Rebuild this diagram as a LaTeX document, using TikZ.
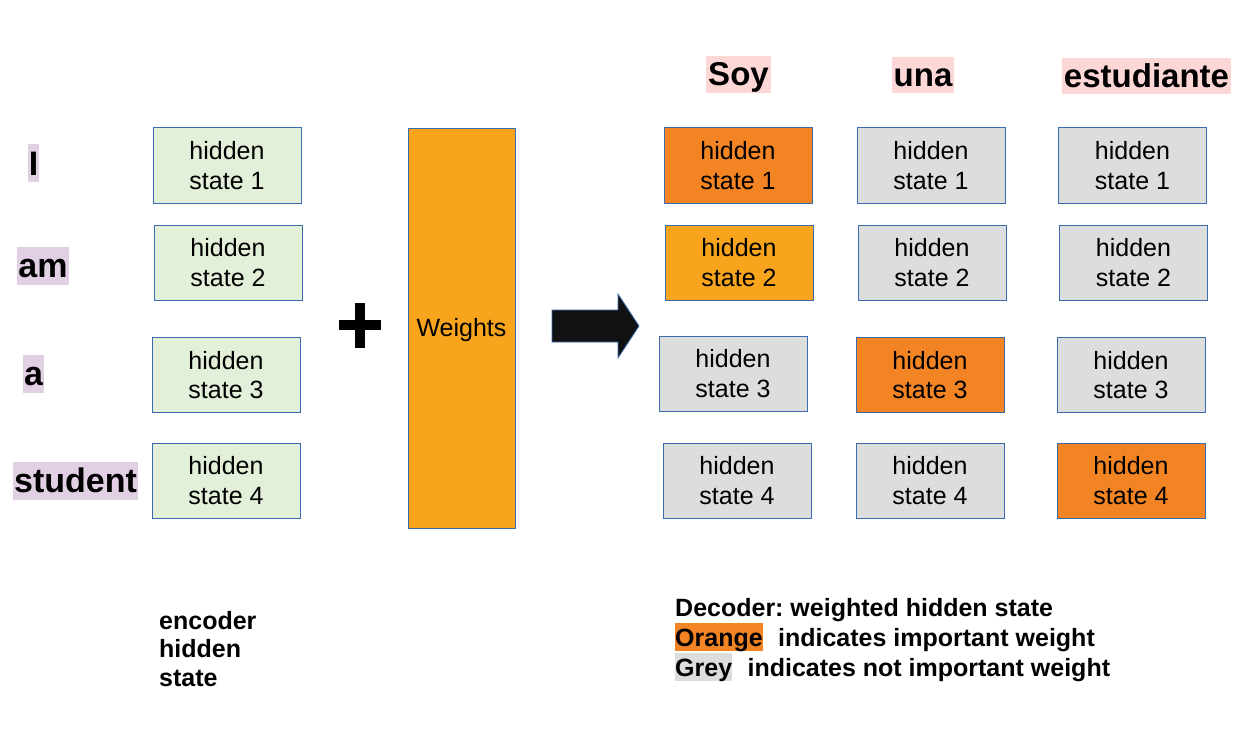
\documentclass[tikz,border=0pt]{standalone}
\usepackage{fontspec}
\setmainfont{Liberation Sans}
\frenchspacing

\definecolor{encgreen}{HTML}{E2EFD9}
\definecolor{bordblue}{HTML}{3B6BAF}
\definecolor{hotorange}{HTML}{F38423}
\definecolor{warmorange}{HTML}{F8A51D}
\definecolor{coolgrey}{HTML}{DDDDDD}
\definecolor{wordlilac}{HTML}{E1CFE4}
\definecolor{wordpink}{HTML}{FDD7D6}
\definecolor{arrowblack}{HTML}{111111}

\tikzset{
  % hidden-state boxes; the strut lowers the two text lines a little
  hs/.style={draw=bordblue, line width=1pt, minimum width=148pt, minimum height=75pt,
    inner sep=0pt, align=center, text=black, font=\fontsize{25}{29.5}\selectfont,
    execute at begin node={\rule{0pt}{21pt}}},
  enc/.style={hs, fill=encgreen},
  hot/.style={hs, fill=hotorange},
  warm/.style={hs, fill=warmorange},
  cold/.style={hs, fill=coolgrey},
  % highlighted words (line box of ascent 0.905em and descent 0.212em)
  word/.style={inner xsep=1pt, inner ysep=0pt, text height=30.8pt, text depth=7.2pt,
    font=\fontsize{34}{39}\selectfont\bfseries, fill=wordlilac},
  target/.style={inner xsep=2pt, inner ysep=0pt, text height=29.9pt, text depth=7pt,
    font=\fontsize{33}{38}\selectfont\bfseries, fill=wordpink},
  legend/.style={inner sep=0pt, anchor=base west, text height=22.6pt, text depth=5.3pt,
    font=\fontsize{25}{30}\selectfont\bfseries},
}

\begin{document}
\begin{tikzpicture}[x=1pt, y=-1pt]
\useasboundingbox (0,0) rectangle (1248,749);

% source words
\node[word] (wI)  at (33.5,163.5) {I};
\node[word] (wam) at (43,265.5) {am};
\node[word] (wa)  at (33.5,373.5) {a};
\node[word] (wst) at (75.5,480.5) {student};

% encoder hidden states
\node[enc] (e1) at (227,165.5) {hidden\\state 1};
\node[enc] (e2) at (228,262.5) {hidden\\state 2};
\node[enc] (e3) at (226,375)   {hidden\\state 3};
\node[enc] (e4) at (226,480.5) {hidden\\state 4};

\node[inner sep=0pt, anchor=north west, align=left,
      font=\fontsize{25}{28.5}\selectfont\bfseries] (enclabel) at (159,611) {encoder\\hidden\\state};

% plus sign
\fill[black] (339,320) rectangle (381,330);
\fill[black] (355,303) rectangle (364.5,348);

% weights column
\node[draw=bordblue, line width=0.8pt, fill=warmorange, minimum width=107pt, minimum height=400pt,
      inner sep=0pt, text height=22.6pt, text depth=5.3pt,
      font=\fontsize{25}{29}\selectfont] (weights) at (461.5,328) {Weights};

% block arrow
\filldraw[fill=arrowblack, draw=bordblue, line width=0.8pt]
  (552,310) -- (618,310) -- (618,294) -- (639,326) -- (618,358) -- (618,342) -- (552,342) -- cycle;

% target words
\node[target] (tSoy) at (738.5,74.5) {Soy};
\node[target] (tuna) at (923,75)     {una};
\node[target] (test) at (1146.5,76)  {estudiante};

% decoder hidden states, column "Soy"
\node[hot]  (s1) at (738,165.5) {hidden\\state 1};
\node[warm] (s2) at (739,262.5) {hidden\\state 2};
\node[cold] (s3) at (733,373.5) {hidden\\state 3};
\node[cold] (s4) at (737,480.5) {hidden\\state 4};

% decoder hidden states, column "una"
\node[cold] (u1) at (931,165.5) {hidden\\state 1};
\node[cold] (u2) at (932,262.5) {hidden\\state 2};
\node[hot]  (u3) at (930,375)   {hidden\\state 3};
\node[cold] (u4) at (930,480.5) {hidden\\state 4};

% decoder hidden states, column "estudiante"
\node[cold] (d1) at (1132.5,165.5) {hidden\\state 1};
\node[cold] (d2) at (1133.5,262.5) {hidden\\state 2};
\node[cold] (d3) at (1131,375)     {hidden\\state 3};
\node[hot]  (d4) at (1131,480.5)   {hidden\\state 4};

% legend
\node[legend] (lg1) at (675,616) {Decoder: weighted hidden state};
\node[legend, fill=hotorange] (lgO) at (675,646) {Orange};
\node[legend] (lg2) at ([xshift=15pt]lgO.base east) {indicates important weight};
\node[legend, fill=coolgrey] (lgG) at (675,676) {Grey};
\node[legend] (lg3) at ([xshift=15pt]lgG.base east) {indicates not important weight};
\end{tikzpicture}
\end{document}
